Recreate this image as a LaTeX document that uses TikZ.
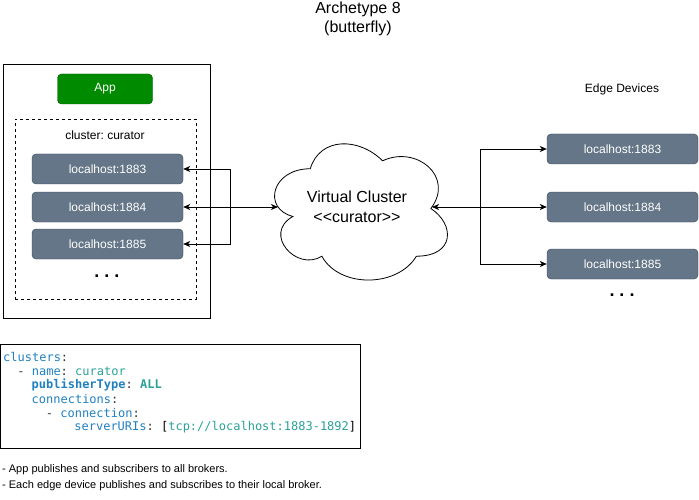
\documentclass[tikz,border=0pt]{standalone}
\usepackage{fontspec}
\setmainfont{Liberation Sans}
\newfontfamily\codefont{DejaVu Sans Mono}
\usetikzlibrary{arrows.meta}
\definecolor{grayfill}{HTML}{647687}
\definecolor{graystroke}{HTML}{314354}
\definecolor{greenfill}{HTML}{008A00}
\definecolor{greenstroke}{HTML}{005700}
\definecolor{ykey}{HTML}{2080C0}
\definecolor{yval}{HTML}{2AA198}
\definecolor{ypunct}{HTML}{333333}
\begin{document}
\frenchspacing
\begin{tikzpicture}[x=1pt,y=-1pt,
  hostbox/.style={draw=graystroke,fill=grayfill,rounded corners=4pt,minimum width=151pt,minimum height=30pt,inner sep=0pt,text=white,font=\fontsize{12}{14}\selectfont},
  appbox/.style={draw=greenstroke,fill=greenfill,rounded corners=4pt,minimum width=95pt,minimum height=30pt,inner sep=0pt,text=white,font=\fontsize{12}{14}\selectfont},
  lbl/.style={inner sep=0pt,font=\fontsize{12}{14}\selectfont},
  dots/.style={inner sep=0pt,font=\fontsize{18}{20}\selectfont\bfseries},
  codeline/.style={anchor=west,inner sep=0pt,font=\codefont\fontsize{12}{14}\selectfont\frenchspacing},
  note/.style={anchor=west,inner sep=0pt,font=\fontsize{11}{13}\selectfont},
  conn/.style={line width=0.8pt,-{Stealth[length=7pt,width=6pt,inset=2pt]}},
  conn2/.style={line width=0.8pt,{Stealth[length=7pt,width=6pt,inset=2pt]}-{Stealth[length=7pt,width=6pt,inset=2pt]}}
]
\useasboundingbox (0,0) rectangle (699,500);

% title
\node[inner sep=0pt,font=\fontsize{16}{19}\selectfont,align=center] (title) at (358,19) {Archetype 8\\(butterfly)};

% left container
\node[draw=black,line width=0.8pt,minimum width=207pt,minimum height=254pt,inner sep=0pt] (outer) at (106.5,191) {};
\node[appbox] (app) at (105,89) {App};
\node[draw=black,dashed,line width=0.7pt,minimum width=181pt,minimum height=180pt,inner sep=0pt] (clusterbox) at (105.5,209) {};
\node[lbl] (clabel) at (105,135) {cluster: curator};
\node[hostbox] (b1883) at (107.5,169) {localhost:1883};
\node[hostbox] (b1884) at (107.5,207) {localhost:1884};
\node[hostbox] (b1885) at (107.5,244) {localhost:1885};
\node[dots] (ldots) at (107,276) {. . .};

% cloud
\begin{scope}[shift={(262,129)},x=193pt,y=-159pt]
\draw[line width=0.8pt] (0.25,0.25) .. controls (0.05,0.25) and (0,0.5) .. (0.16,0.55)
  .. controls (0,0.66) and (0.18,0.9) .. (0.31,0.8)
  .. controls (0.4,1) and (0.7,1) .. (0.8,0.8)
  .. controls (1,0.8) and (1,0.6) .. (0.875,0.5)
  .. controls (1,0.3) and (0.8,0.1) .. (0.625,0.2)
  .. controls (0.5,0.05) and (0.3,0.05) .. (0.25,0.25) -- cycle;
\end{scope}
\node[inner sep=0pt,font=\fontsize{16}{20}\selectfont,align=center] (vc) at (357,207) {Virtual Cluster\\<{}<curator>{}>};
\coordinate (cL) at (278,207);
\coordinate (cR) at (432,207);

% right side
\node[lbl] (edge) at (622,89) {Edge Devices};
\node[hostbox] (e1883) at (622.5,149) {localhost:1883};
\node[hostbox] (e1884) at (622.5,207) {localhost:1884};
\node[hostbox] (e1885) at (622.5,264) {localhost:1885};
\node[dots] (rdots) at (622,295) {. . .};

% connectors
\coordinate (jL) at (230,207);
\coordinate (jR) at (480,207);
\draw[conn2] (b1884.east) -- (cL);
\draw[conn] (jL) |- (b1883.east);
\draw[conn] (jL) |- (b1885.east);
\draw[conn2] (cR) -- (e1884.west);
\draw[conn] (jR) |- (e1883.west);
\draw[conn] (jR) |- (e1885.west);

% code box
\node[draw=black,line width=0.8pt,minimum width=360pt,minimum height=104pt,inner sep=0pt] (codebox) at (180.5,396.5) {};
\node[codeline] (c1) at (3,357) {\textcolor{ykey}{clusters}\textcolor{ypunct}{:}};
\node[codeline] (c2) at (17.2,371) {\textcolor{ypunct}{-} \textcolor{ykey}{name}\textcolor{ypunct}{:} \textcolor{yval}{curator}};
\node[codeline] (c3) at (31.5,385) {\textcolor{ykey}{\bfseries publisherType}\textcolor{ypunct}{:} \textcolor{yval}{\bfseries ALL}};
\node[codeline] (c4) at (31.5,399) {\textcolor{ykey}{connections}\textcolor{ypunct}{:}};
\node[codeline] (c5) at (45.7,413) {\textcolor{ypunct}{-} \textcolor{ykey}{connection}\textcolor{ypunct}{:}};
\node[codeline] (c6) at (74.2,427) {\textcolor{ykey}{serverURIs}\textcolor{ypunct}{:} [\textcolor{yval}{tcp://localhost:1883-1892}]};

% notes
\node[note] (n1) at (2,470) {- App publishes and subscribers to all brokers.};
\node[note] (n2) at (2,486) {- Each edge device publishes and subscribes to their local broker.};
\end{tikzpicture}
\end{document}
